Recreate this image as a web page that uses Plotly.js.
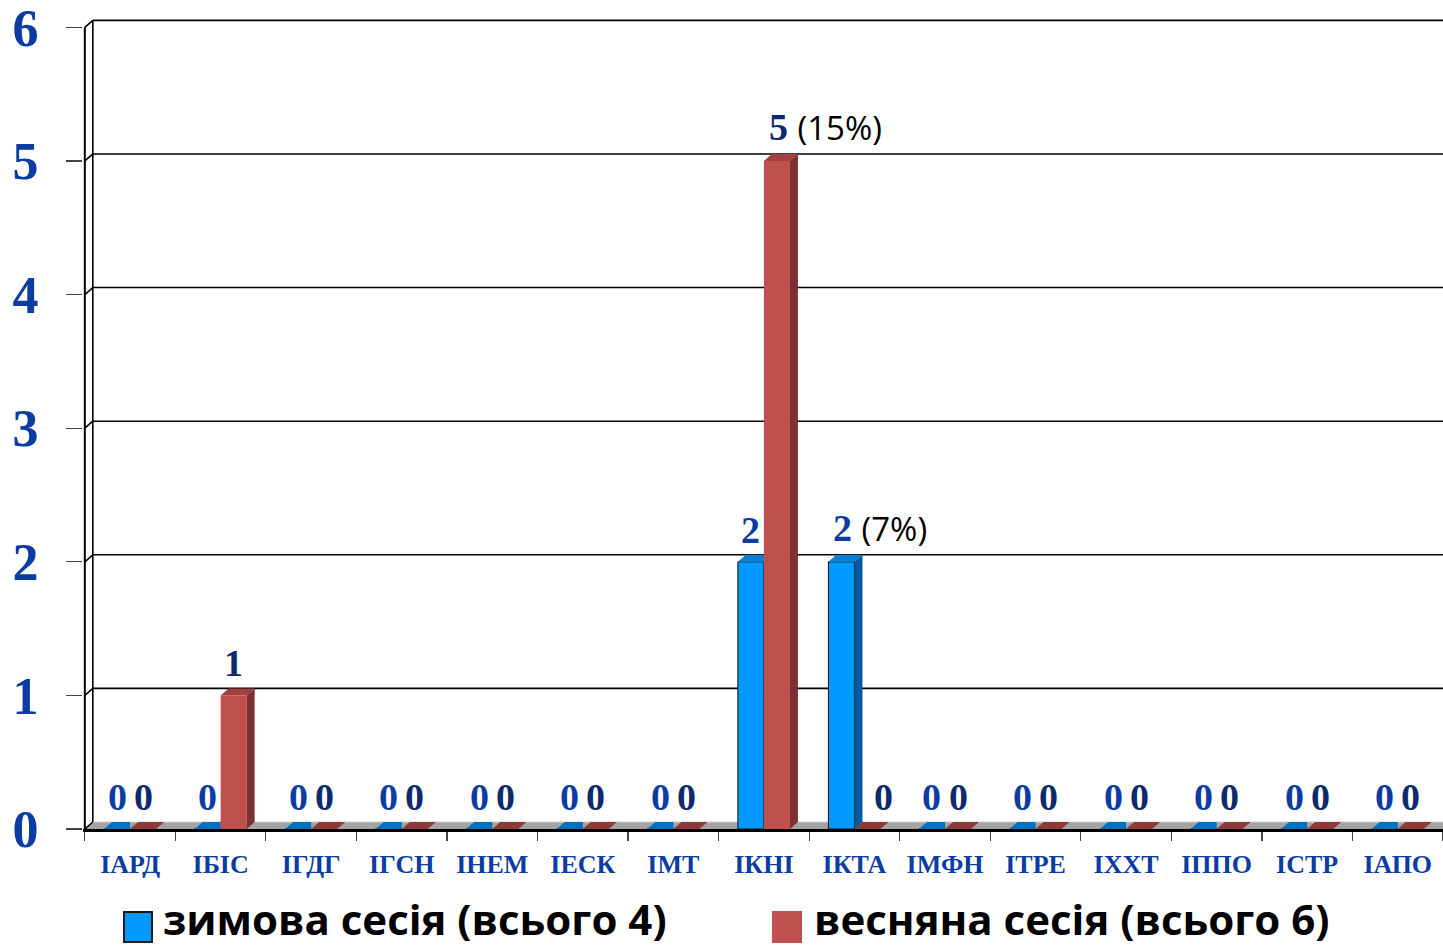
<!DOCTYPE html>
<html>
<head>
<meta charset="utf-8">
<script src="https://cdn.plot.ly/plotly-3.0.1.min.js"></script>
<style>html,body{margin:0;padding:0;background:#fff;}#chart{width:1443px;height:950px;}</style>
</head>
<body>
<div id="chart"></div>
<script>
// ---- data ----
const categories = ['ІАРД','ІБІС','ІГДГ','ІГСН','ІНЕМ','ІЕСК','ІМТ','ІКНІ','ІКТА','ІМФН','ІТРЕ','ІХХТ','ІППО','ІСТР','ІАПО'];
const seriesNames = ['зимова сесія (всього 4)', 'весняна сесія (всього 6)'];
const winter = [0,0,0,0,0,0,0,2,2,0,0,0,0,0,0];
const spring = [0,1,0,0,0,0,0,5,0,0,0,0,0,0,0];
const winterNotes = ['','','','','','','','','7%','','','','','',''];
const springNotes = ['','','','','','','','15%','','','','','','',''];
const yTicks = [0,1,2,3,4,5,6];

// ---- geometry / style ----
const W = 1443, H = 950;
const M = {l: 83, r: 0, t: 14, b: 121};
const xRange = [-0.52, 14.5], yRange = [0, 6.1];
const pw = W - M.l - M.r, ph = H - M.t - M.b;
const pxX = pw / (xRange[1] - xRange[0]);
const pxY = ph / (yRange[1] - yRange[0]);
const dx = 8 / pxX, dy = 7 / pxY;   // 3-D depth offsets
const bargap = 0.425;
const bw = (1 - bargap) / 2;          // single bar width (category units)
const halfPx = bw * pxX / 2;

const blueFront = '#0099ff', blueTop = '#0a7fd0', blueSide = '#005c9e', blueFloor = '#0070c0';
const redFront = '#c0504d', redTop = '#a0423f', redSide = '#7c3130', redFloor = '#8e3a38';
const tickBlue = '#0a3ca3', navy = '#0d2a6c';

const shapes = [];
function poly(pts, fill, layer, lineColor, lw) {
  const d = pts.map((p, k) => (k ? 'L ' : 'M ') + p[0] + ' ' + p[1]).join(' ') + ' Z';
  shapes.push({type: 'path', xref: 'x', yref: 'y', path: d, fillcolor: fill,
    line: {color: lineColor || fill, width: lw === undefined ? 0 : lw}, layer: layer || 'above'});
}
function seg(x0, y0, x1, y1, color, w, layer) {
  shapes.push({type: 'line', xref: 'x', yref: 'y', x0, y0, x1, y1,
    line: {color, width: w}, layer: layer || 'below'});
}

// back wall gridlines
yTicks.forEach(v => { if (v > 0) seg(-0.5 + dx, v + dy, 14.5, v + dy, '#000', 1.6); });
// left wall: front line, back line, connectors
seg(-0.5, 0, -0.5, 6, '#000', 2, 'above');
seg(-0.5 + dx, dy, -0.5 + dx, 6 + dy, '#000', 1.6);
yTicks.forEach(v => seg(-0.5, v, -0.5 + dx, v + dy, '#000', 1.6, 'above'));
// floor
poly([[-0.5, 0], [14.6, 0], [14.6 + dx, dy], [-0.5 + dx, dy]], '#a3a3a3', 'below');
seg(-0.5 + dx, dy, 14.6, dy, '#cfcfcf', 1.2);

// 3-D faces (red first, then blue)
categories.forEach((c, i) => {
  const v = spring[i];
  const xl = i, xr = i + bw;
  poly([[xl, v], [xr, v], [xr + dx, v + dy], [xl + dx, v + dy]], v > 0 ? redTop : redFloor);
  if (v > 0) poly([[xr, 0], [xr, v], [xr + dx, v + dy], [xr + dx, dy]], redSide);
});
categories.forEach((c, i) => {
  const v = winter[i];
  const xl = i - bw, xr = i;
  if (spring[i] >= v) {
    poly([[xl, v], [xr, v], [xr, v + dy], [xl + dx, v + dy]], v > 0 ? blueTop : blueFloor);
  } else {
    poly([[xl, v], [xr, v], [xr + dx, v + dy], [xl + dx, v + dy]], v > 0 ? blueTop : blueFloor);
    poly([[xr, 0], [xr, v], [xr + dx, v + dy], [xr + dx, dy]], blueSide);
  }
});

// data labels
const annotations = [];
function label(i, v, note, s) {
  const off = s === 0 ? -halfPx : halfPx;
  let extra = 0;
  if (s === 1 && winter[i] > spring[i]) extra = 16;
  let text = '' + v;
  const a = {
    x: i, y: v, xref: 'x', yref: 'y', showarrow: false, yanchor: 'bottom',
    yshift: 9, xshift: off + extra, xanchor: 'center',
    font: {family: 'Liberation Serif', size: 38, weight: 'bold', color: s === 0 ? tickBlue : navy}
  };
  if (note) {
    text += ' <span style="font-family:\'Open Sans\';font-size:33px;font-weight:normal;color:#000">(' + note + ')</span>';
    a.xanchor = 'left';
    a.xshift = off - 10;
  }
  a.text = text;
  annotations.push(a);
}
categories.forEach((c, i) => { label(i, winter[i], winterNotes[i], 0); label(i, spring[i], springNotes[i], 1); });

// manual legend
const px2x = px => (px - M.l) / pw, py2y = py => (H - M.b - py) / ph;
const legendItems = [
  {name: seriesNames[0], color: blueFront, border: '#1a1a1a', bx: 124, tx: 162},
  {name: seriesNames[1], color: redFront, border: redFront, bx: 773, tx: 813}
];
legendItems.forEach(it => {
  shapes.push({type: 'rect', xref: 'paper', yref: 'paper', x0: px2x(it.bx), x1: px2x(it.bx + 28),
    y0: py2y(942), y1: py2y(912), fillcolor: it.color, line: {color: it.border, width: 2}, layer: 'above'});
  annotations.push({xref: 'paper', yref: 'paper', x: px2x(it.tx), y: py2y(918), xanchor: 'left', yanchor: 'middle',
    showarrow: false, borderpad: 0, text: it.name, font: {family: 'Open Sans', size: 42, weight: 'bold', color: '#000'}});
});

const traces = [
  {type: 'bar', name: seriesNames[0], x: categories, y: winter,
   marker: {color: blueFront, line: {color: '#111', width: 1}}, hoverinfo: 'skip'},
  {type: 'bar', name: seriesNames[1], x: categories, y: spring,
   marker: {color: redFront, line: {width: 0}}, hoverinfo: 'skip'}
];

const layout = {
  width: W, height: H, margin: M, paper_bgcolor: '#fff', plot_bgcolor: 'rgba(0,0,0,0)',
  barmode: 'group', bargap: bargap, bargroupgap: 0, showlegend: false,
  xaxis: {type: 'category', range: xRange, tickson: 'boundaries', ticks: 'outside', ticklen: 9,
    tickcolor: '#444', tickwidth: 1.2, showline: true, linecolor: '#000', linewidth: 2.5,
    showgrid: false, zeroline: false, ticklabelstandoff: 10, tickangle: 0, ticklabeloverflow: 'allow',
    tickfont: {family: 'Liberation Serif', size: 26, weight: 'bold', color: tickBlue}},
  yaxis: {range: yRange, tickvals: yTicks, ticks: 'outside', ticklen: 16, tickcolor: '#444',
    tickwidth: 1.2, showline: false, showgrid: false, zeroline: false, ticklabelstandoff: 17,
    ticklabeloverflow: 'allow',
    tickfont: {family: 'Liberation Serif', size: 52, weight: 'bold', color: tickBlue}},
  shapes: shapes, annotations: annotations
};

Plotly.newPlot('chart', traces, layout, {displayModeBar: false, staticPlot: true});
</script>
</body>
</html>
